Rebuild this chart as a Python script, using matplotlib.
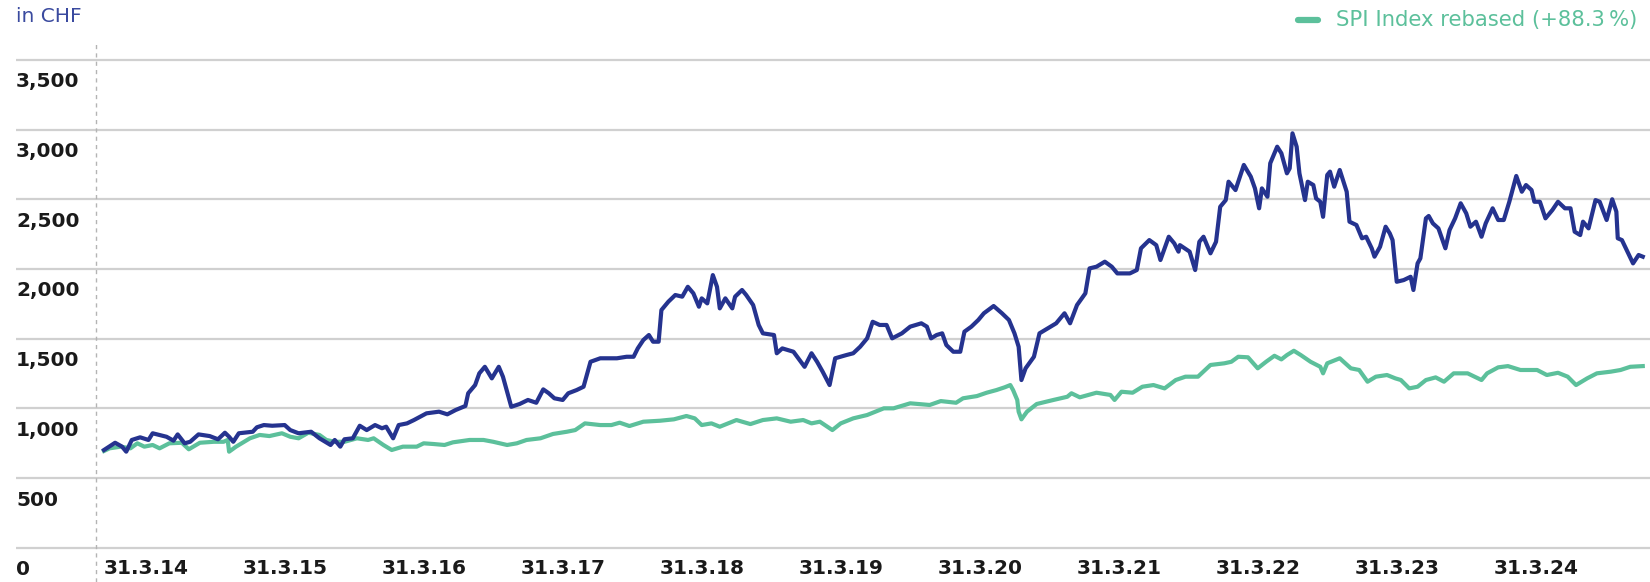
import matplotlib
matplotlib.use("Agg")
import matplotlib.pyplot as plt
import matplotlib.transforms as mtransforms
from matplotlib.lines import Line2D

# share price in CHF (decimal year, value)
share_t = [2014.25, 2014.33, 2014.38, 2014.41, 2014.45, 2014.51, 2014.57, 2014.60, 2014.70, 2014.75,
           2014.78, 2014.83, 2014.87, 2014.93, 2015.01, 2015.07, 2015.12, 2015.15, 2015.18, 2015.22,
           2015.32, 2015.35, 2015.40, 2015.46, 2015.55, 2015.59, 2015.65, 2015.74, 2015.80, 2015.88,
           2015.91, 2015.95, 2015.98, 2016.04, 2016.09, 2016.14, 2016.20, 2016.25, 2016.28, 2016.33,
           2016.37, 2016.43, 2016.48, 2016.57, 2016.66, 2016.72, 2016.78, 2016.85, 2016.87, 2016.92,
           2016.95, 2016.99, 2017.04, 2017.09, 2017.12, 2017.15, 2017.18, 2017.24, 2017.30, 2017.36,
           2017.41, 2017.45, 2017.49, 2017.55, 2017.59, 2017.65, 2017.70, 2017.72, 2017.75, 2017.82,
           2017.94, 2018.01, 2018.06, 2018.09, 2018.13, 2018.17, 2018.20, 2018.24, 2018.26, 2018.31,
           2018.36, 2018.41, 2018.45, 2018.49, 2018.53, 2018.55, 2018.59, 2018.63, 2018.66, 2018.68,
           2018.72, 2018.77, 2018.79, 2018.84, 2018.87, 2018.92, 2018.96, 2018.99, 2019.07, 2019.09,
           2019.13, 2019.21, 2019.29, 2019.34, 2019.38, 2019.42, 2019.47, 2019.51, 2019.59, 2019.64,
           2019.69, 2019.74, 2019.78, 2019.83, 2019.88, 2019.92, 2019.99, 2020.05, 2020.13, 2020.17,
           2020.20, 2020.24, 2020.28, 2020.31, 2020.36, 2020.41, 2020.44, 2020.49, 2020.54, 2020.58,
           2020.65, 2020.71, 2020.76, 2020.80, 2020.83, 2020.85, 2020.88, 2020.94, 2020.98, 2021.06,
           2021.10, 2021.16, 2021.20, 2021.25, 2021.31, 2021.34, 2021.39, 2021.45, 2021.50, 2021.54,
           2021.63, 2021.68, 2021.71, 2021.77, 2021.82, 2021.85, 2021.91, 2021.95, 2021.98, 2021.99,
           2022.06, 2022.10, 2022.13, 2022.16, 2022.21, 2022.25, 2022.28, 2022.32, 2022.34, 2022.39,
           2022.45, 2022.50, 2022.53, 2022.56, 2022.58, 2022.62, 2022.64, 2022.69, 2022.72, 2022.76,
           2022.78, 2022.80, 2022.83, 2022.85, 2022.89, 2022.91, 2022.95, 2022.97, 2023.00, 2023.02,
           2023.05, 2023.07, 2023.10, 2023.14, 2023.19, 2023.21, 2023.26, 2023.30, 2023.33, 2023.37,
           2023.39, 2023.43, 2023.47, 2023.50, 2023.52, 2023.55, 2023.60, 2023.65, 2023.67, 2023.70,
           2023.72, 2023.76, 2023.78, 2023.81, 2023.85, 2023.90, 2023.93, 2023.97, 2024.01, 2024.05,
           2024.08, 2024.12, 2024.16, 2024.19, 2024.24, 2024.28, 2024.32, 2024.36, 2024.41, 2024.45,
           2024.48, 2024.52, 2024.54, 2024.58, 2024.62, 2024.67, 2024.71, 2024.76, 2024.80, 2024.83,
           2024.87, 2024.89, 2024.93, 2024.98, 2025.01, 2025.06, 2025.10, 2025.13, 2025.14, 2025.17,
           2025.21, 2025.25, 2025.29, 2025.32]
share_v = [701, 753, 725, 689, 773, 792, 773, 821, 796, 768,
           813, 749, 760, 813, 801, 778, 825, 796, 760, 821,
           832, 864, 880, 875, 880, 844, 821, 832, 785, 737,
           773, 725, 778, 785, 875, 844, 880, 857, 868, 785,
           880, 892, 916, 964, 976, 957, 988, 1017, 1108, 1167,
           1251, 1298, 1215, 1298, 1227, 1119, 1011, 1031, 1060, 1040,
           1136, 1108, 1072, 1060, 1108, 1131, 1155, 1227, 1334, 1359,
           1359, 1370, 1370, 1430, 1490, 1526, 1478, 1478, 1705, 1765,
           1813, 1801, 1872, 1825, 1729, 1789, 1753, 1956, 1872, 1717,
           1789, 1717, 1801, 1849, 1813, 1741, 1598, 1538, 1526, 1395,
           1430, 1406, 1298, 1395, 1334, 1263, 1167, 1359, 1382, 1395,
           1442, 1502, 1621, 1598, 1598, 1502, 1538, 1586, 1610, 1586,
           1502, 1526, 1538, 1454, 1406, 1406, 1550, 1586, 1634, 1682,
           1734, 1682, 1634, 1538, 1442, 1203, 1287, 1370, 1538, 1586,
           1610, 1682, 1610, 1741, 1825, 2004, 2016, 2052, 2016, 1968,
           1968, 1992, 2148, 2207, 2171, 2064, 2231, 2183, 2124, 2171,
           2124, 1992, 2195, 2231, 2112, 2195, 2446, 2494, 2626, 2566,
           2746, 2662, 2578, 2435, 2578, 2518, 2758, 2877, 2830, 2686,
           2722, 2973, 2877, 2686, 2494, 2626, 2602, 2506, 2482, 2374,
           2674, 2698, 2590, 2710, 2554, 2339, 2315, 2220, 2231, 2148,
           2088, 2159, 2303, 2255, 2207, 1908, 1920, 1944, 1849, 2040,
           2076, 2363, 2380, 2327, 2291, 2148, 2279, 2363, 2471, 2399,
           2303, 2339, 2231, 2327, 2435, 2351, 2351, 2482, 2667, 2554,
           2602, 2566, 2482, 2482, 2363, 2423, 2482, 2435, 2435, 2267,
           2243, 2339, 2291, 2494, 2482, 2351, 2500, 2411, 2220, 2207,
           2124, 2040, 2100, 2088]

# SPI rebased to the share price at the start
spi_t = [2014.25, 2014.29, 2014.37, 2014.44, 2014.49, 2014.54, 2014.60, 2014.65, 2014.72, 2014.81,
         2014.86, 2014.94, 2015.04, 2015.11, 2015.14, 2015.15, 2015.20, 2015.30, 2015.37, 2015.44,
         2015.53, 2015.59, 2015.65, 2015.72, 2015.80, 2015.85, 2015.91, 2015.98, 2016.07, 2016.15,
         2016.19, 2016.26, 2016.32, 2016.40, 2016.50, 2016.55, 2016.62, 2016.70, 2016.76, 2016.88,
         2016.98, 2017.05, 2017.15, 2017.22, 2017.29, 2017.39, 2017.48, 2017.58, 2017.64, 2017.71,
         2017.82, 2017.90, 2017.96, 2018.03, 2018.13, 2018.25, 2018.35, 2018.44, 2018.50, 2018.55,
         2018.62, 2018.68, 2018.80, 2018.90, 2018.99, 2019.09, 2019.19, 2019.28, 2019.34, 2019.40,
         2019.49, 2019.55, 2019.64, 2019.74, 2019.86, 2019.93, 2020.05, 2020.19, 2020.27, 2020.38,
         2020.43, 2020.53, 2020.60, 2020.67, 2020.73, 2020.77, 2020.79, 2020.82, 2020.83, 2020.85,
         2020.89, 2020.96, 2021.08, 2021.18, 2021.21, 2021.27, 2021.39, 2021.49, 2021.52, 2021.57,
         2021.65, 2021.72, 2021.80, 2021.88, 2021.96, 2022.03, 2022.12, 2022.21, 2022.31, 2022.36,
         2022.41, 2022.48, 2022.55, 2022.61, 2022.67, 2022.72, 2022.76, 2022.81, 2022.86, 2022.93,
         2023.00, 2023.02, 2023.05, 2023.14, 2023.22, 2023.28, 2023.34, 2023.40, 2023.48, 2023.54,
         2023.58, 2023.64, 2023.70, 2023.76, 2023.83, 2023.89, 2023.96, 2024.06, 2024.16, 2024.20,
         2024.28, 2024.35, 2024.44, 2024.56, 2024.63, 2024.71, 2024.78, 2024.84, 2024.92, 2024.99,
         2025.09, 2025.16, 2025.23, 2025.32]
spi_v = [694, 713, 725, 713, 749, 725, 737, 713, 749, 753,
         706, 753, 760, 760, 773, 689, 725, 785, 809, 801,
         821, 796, 785, 825, 809, 773, 760, 760, 785, 773,
         785, 737, 701, 725, 725, 749, 744, 737, 756, 773,
         773, 760, 737, 749, 773, 785, 816, 832, 844, 892,
         880, 880, 897, 873, 904, 911, 921, 945, 928, 880,
         892, 868, 916, 887, 916, 928, 904, 916, 892, 904,
         844, 892, 928, 952, 1000, 1000, 1036, 1024, 1052, 1040,
         1072, 1088, 1112, 1131, 1151, 1167, 1131, 1060, 976, 921,
         976, 1031, 1060, 1083, 1108, 1079, 1112, 1096, 1060, 1119,
         1112, 1155, 1167, 1143, 1203, 1227, 1227, 1311, 1323, 1334,
         1370, 1366, 1287, 1334, 1377, 1351, 1382, 1413, 1382, 1334,
         1298, 1251, 1323, 1359, 1287, 1275, 1191, 1227, 1239, 1215,
         1203, 1143, 1155, 1203, 1222, 1191, 1251, 1251, 1203, 1251,
         1294, 1303, 1275, 1275, 1239, 1255, 1227, 1167, 1215, 1251,
         1263, 1275, 1298, 1303]

y_ticks = [0, 500, 1000, 1500, 2000, 2500, 3000, 3500]
y_labels = ["0", "500", "1,000", "1,500", "2,000", "2,500", "3,000", "3,500"]
x_ticks = [2014.25 + i for i in range(11)]
x_labels = ["31.3.%02d" % (14 + i) for i in range(11)]

BLUE = "#25338f"
GREEN = "#5cc09b"
GRID = "#d0d0d0"
TEXT = "#1a1a1a"

plt.rcParams["font.family"] = ["DejaVu Sans"]

W, H = 1650, 582
fig = plt.figure(figsize=(W / 100, H / 100), dpi=100)
ax = fig.add_axes([16 / W, 0, 1 - 16 / W, (H - 43) / H])
ax.set_xlim(2013.617, 2025.372)
ax.set_ylim(-246, 3621)
ax.axis("off")

for v in y_ticks:
    ax.axhline(v, color=GRID, lw=1.6, zorder=1)
ax.axvline(2014.19, color="#b4b4b4", lw=1.0, ls=(0, (3, 3)), zorder=1)

ax.plot(spi_t, spi_v, color=GREEN, lw=3.0, solid_joinstyle="round", zorder=3)
ax.plot(share_t, share_v, color=BLUE, lw=3.0, solid_joinstyle="round", zorder=4)

# y labels sit just below their grid line
shift = mtransforms.ScaledTranslation(0, -22 / 100, fig.dpi_scale_trans)
ytrans = mtransforms.blended_transform_factory(ax.transAxes, ax.transData) + shift
for v, lab in zip(y_ticks, y_labels):
    ax.text(0, v, lab, transform=ytrans, ha="left", va="center",
            fontsize=14.5, fontweight="bold", color=TEXT)

xtrans = mtransforms.blended_transform_factory(ax.transData, fig.transFigure)
for t, lab in zip(x_ticks, x_labels):
    ax.text(t, 1 - 568 / H, lab, transform=xtrans, ha="left", va="center",
            fontsize=14.5, fontweight="bold", color=TEXT)

fig.text(16 / W, 1 - 17 / H, "in CHF", ha="left", va="center",
         fontsize=14.5, color="#3a4a9f")

# legend entry for the index
fig.add_artist(Line2D([1298 / W, 1318 / W], [1 - 20 / H, 1 - 20 / H],
                      color=GREEN, lw=4.5, solid_capstyle="round"))
fig.text(1336 / W, 1 - 20 / H, "SPI Index rebased (+88.3\u2009%)", ha="left",
         va="center", fontsize=15.2, color=GREEN)

fig.savefig("out.png", dpi=100)
